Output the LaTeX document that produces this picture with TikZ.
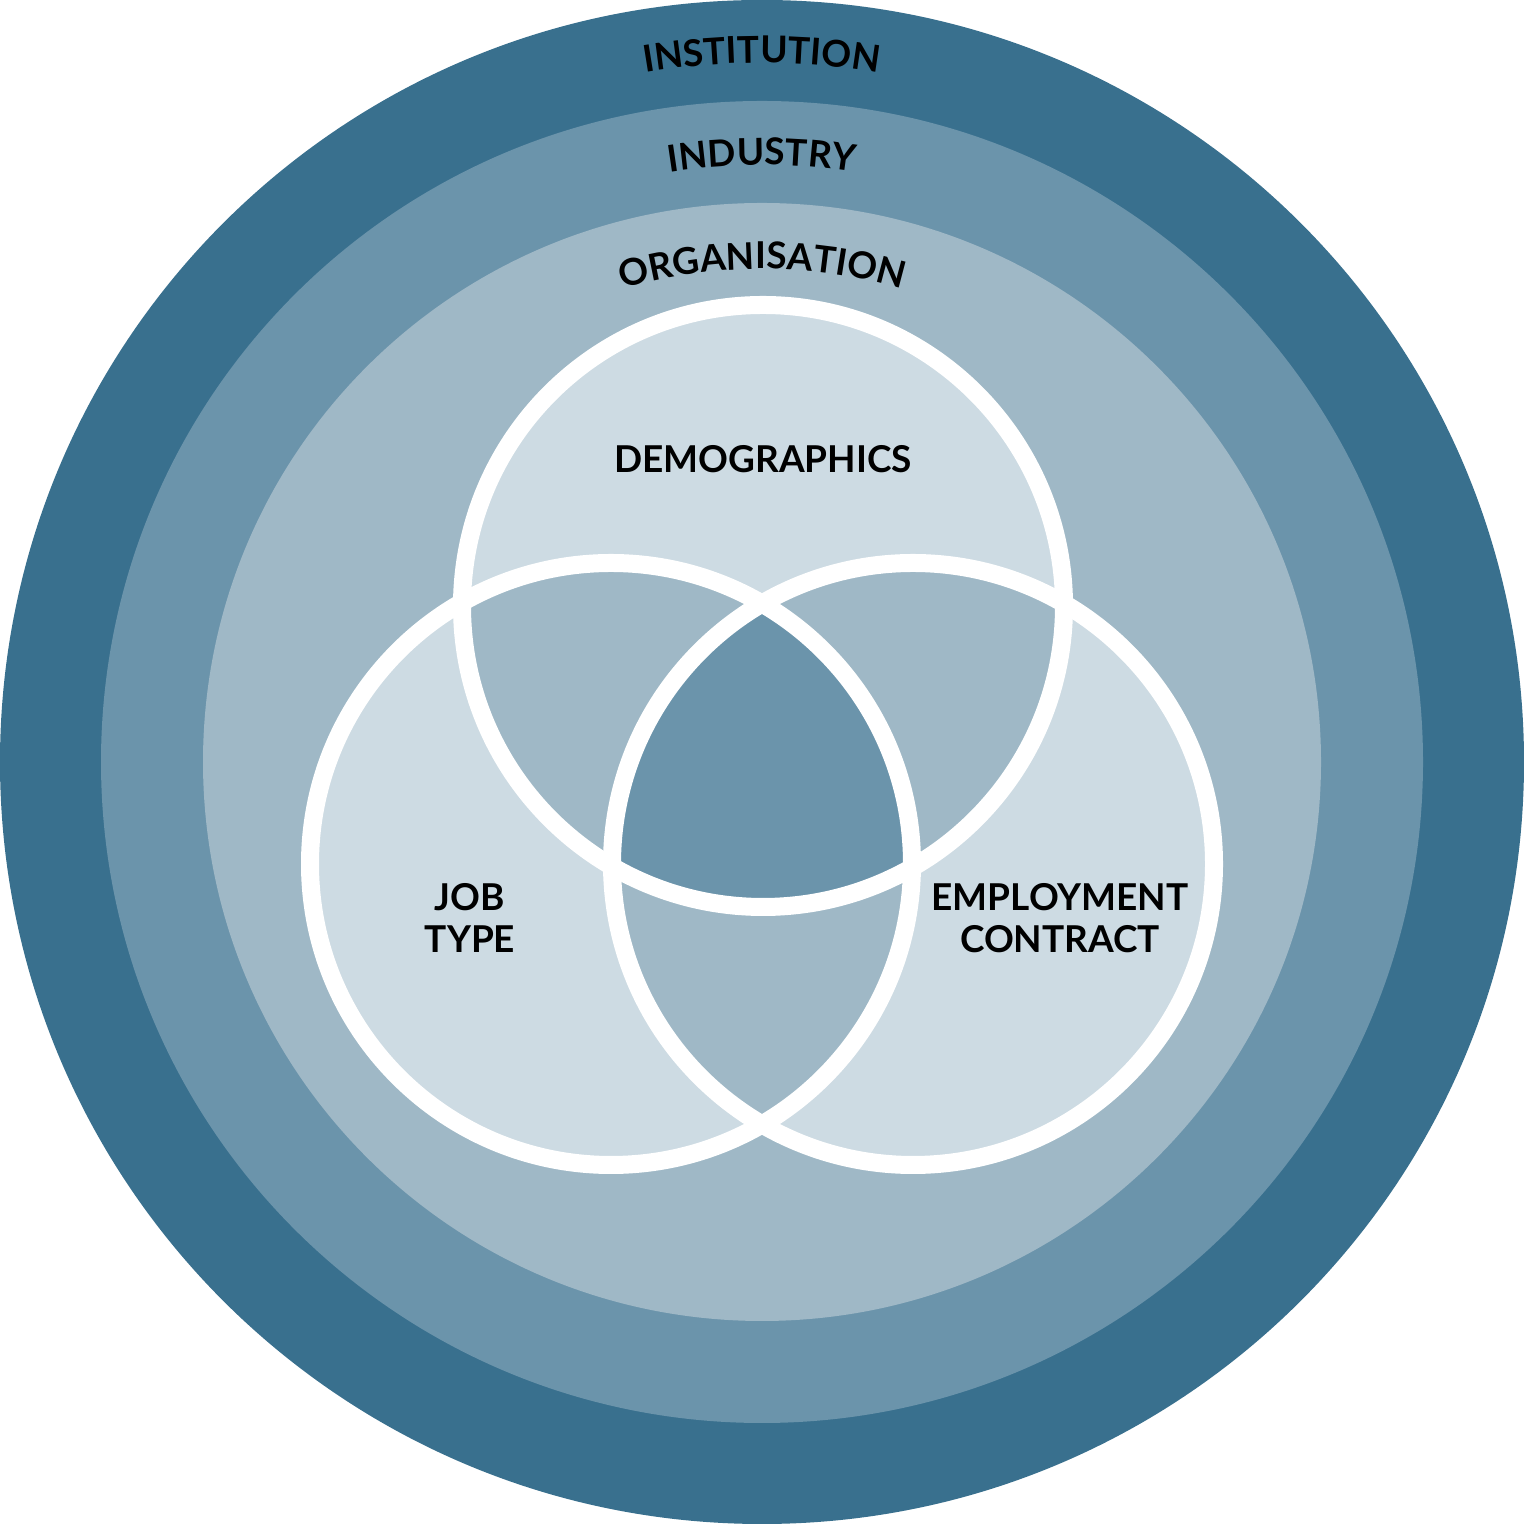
\documentclass[tikz,border=0pt]{standalone}
\usepackage{fontspec}
\setmainfont{Lato}
\usetikzlibrary{decorations.text}
\newfontfamily\labelfont{Lato Bold}
\definecolor{ringOuter}{HTML}{39708E}
\definecolor{ringMid}{HTML}{6B94AB}
\definecolor{ringInner}{HTML}{9FB8C6}
\definecolor{vennLight}{HTML}{CDDBE3}
\begin{document}
\begin{tikzpicture}[x=0.5pt,y=0.5pt]
  \tikzset{RingLabel/.style 2 args = {
    decorate,
    decoration = {text along path, text align=center,
                  text={|\labelfont\fontsize{18.5}{22}\selectfont|#2}},
    }
  }
  \tikzset{VennLabel/.style = {
    font          = \labelfont\fontsize{18.5}{21}\selectfont,
    align         = center,
    text          = black,
    inner sep     = 0pt
    }
  }
  \tikzset{VennRing/.style = {draw = white, line width = 9pt}}
  \useasboundingbox (0,0) rectangle (1524,1524);

  \coordinate (C) at (762,762);
  \coordinate (D) at (763,918);
  \coordinate (J) at (611,660);
  \coordinate (E) at (913,660);

  % rings
  \fill[ringOuter] (C) circle[radius=381pt];
  \fill[ringMid]   (C) circle[radius=330.5pt];
  \fill[ringInner] (C) circle[radius=279.5pt];

  % venn fills
  \fill[vennLight] (D) circle[radius=150.5pt] (J) circle[radius=150.5pt] (E) circle[radius=150.5pt];
  \begin{scope}
    \clip (D) circle[radius=150.5pt];
    \fill[ringInner] (J) circle[radius=150.5pt] (E) circle[radius=150.5pt];
  \end{scope}
  \begin{scope}
    \clip (J) circle[radius=150.5pt];
    \fill[ringInner] (E) circle[radius=150.5pt];
    \clip (E) circle[radius=150.5pt];
    \fill[ringMid] (D) circle[radius=150.5pt];
  \end{scope}
  \draw[VennRing] (D) circle[radius=150.5pt];
  \draw[VennRing] (J) circle[radius=150.5pt];
  \draw[VennRing] (E) circle[radius=150.5pt];

  % ring labels
  \path[RingLabel={}{INSTITUTION}]  (C) ++(135:349.5pt) arc[start angle=135, end angle=45, radius=349.5pt];
  \path[RingLabel={}{INDUSTRY}]     (C) ++(135:298.5pt) arc[start angle=135, end angle=45, radius=298.5pt];
  \path[RingLabel={}{ORGANISATION}] (C) ++(135:246.5pt) arc[start angle=135, end angle=45, radius=246.5pt];

  % venn labels
  \node[VennLabel] (demo) at (763,1065) {DEMOGRAPHICS};
  \node[VennLabel] (job)  at (470,606)  {JOB\\TYPE};
  \node[VennLabel] (emp)  at (1060,606) {EMPLOYMENT\\CONTRACT};
\end{tikzpicture}
\end{document}
